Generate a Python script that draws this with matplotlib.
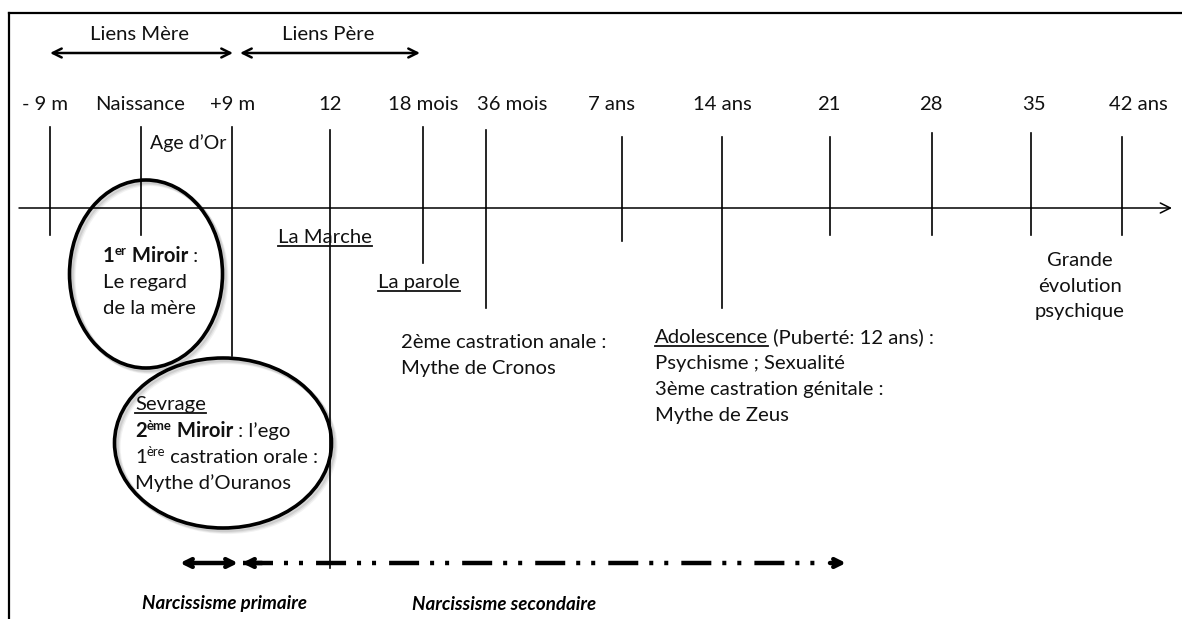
import matplotlib
matplotlib.use('Agg')
import matplotlib.pyplot as plt
from matplotlib.patches import Ellipse

plt.rcParams['font.family'] = ['Lato', 'DejaVu Sans']
plt.rcParams['lines.scale_dashes'] = False

# timeline ticks (x in pixel units of the drawing)
tick_labels = ['- 9 m', 'Naissance', '+9 m', '12', '18 mois', '36 mois', '7 ans', '14 ans', '21', '28', '35', '42 ans']
tick_x = [50, 141, 232, 330, 423, 486, 622, 722, 830, 932, 1031, 1122]
label_x = [45, 140, 233, 330, 423, 512, 611, 722, 829, 931, 1034, 1138]
tick_top = [127, 127, 127, 130, 127, 130, 137, 137, 137, 133, 133, 137]
tick_bottom = [235, 235, 356, 568, 263, 308, 241, 308, 235, 235, 235, 235]

links = ['Liens Mère', 'Liens Père']
links_span = [(50, 233), (240, 420)]

FS = 14.6

fig = plt.figure(figsize=(11.82, 6.19), dpi=100)
ax = fig.add_axes([0, 0, 1, 1])
ax.set_xlim(0, 1182)
ax.set_ylim(619, 0)
ax.axis('off')
renderer = fig.canvas.get_renderer()

def width_of(t):
	bb = t.get_window_extent(renderer)
	return bb.width

def runs(x, y, parts, size=FS):
	# parts: (text, bold, superscript, underline)
	for txt, bold, sup, under in parts:
		t = ax.text(x, y - (7 if sup else 0), txt, fontsize=size * 0.65 if sup else size,
			fontweight='bold' if bold else 'normal', va='baseline', ha='left', color='#111111')
		w = width_of(t)
		if under:
			ax.plot([x, x + w], [y + 3, y + 3], color='#111111', lw=1.3)
		x += w

# frame
ax.plot([9, 9], [619, 13], color='black', lw=1.6)
ax.plot([9, 1182], [13, 13], color='black', lw=1.6)

# top arrows
for name, (a, b) in zip(links, links_span):
	ax.annotate('', xy=(b, 53), xytext=(a, 53),
		arrowprops=dict(arrowstyle='<->', lw=1.8, color='black', mutation_scale=16, shrinkA=0, shrinkB=0))
	ax.text((a + b) / 2 - 2, 35, name, fontsize=FS, ha='center', va='center', color='#111111')

# main axis
ax.annotate('', xy=(1172, 208), xytext=(19, 208),
	arrowprops=dict(arrowstyle='->', lw=1.1, color='black', mutation_scale=18, shrinkA=0, shrinkB=0))

for lab, lx, tx, t0, t1 in zip(tick_labels, label_x, tick_x, tick_top, tick_bottom):
	ax.text(lx, 104, lab, fontsize=FS, ha='center', va='center', color='#111111')
	ax.plot([tx, tx], [t0, t1], color='black', lw=1.2)

ax.text(150, 143, "Age d\u2019Or", fontsize=14, ha='left', va='center', color='#111111')

# ellipses with soft shadow
for cx, cy, w, h in [(146, 274, 153, 188), (223, 443, 217, 170)]:
	for k, a in [(4, 0.10), (3, 0.15), (2, 0.2)]:
		ax.add_patch(Ellipse((cx + k, cy + k), w, h, fill=False, ec='grey', lw=3, alpha=a))
	ax.add_patch(Ellipse((cx, cy), w, h, fill=False, ec='black', lw=2.6))

# first mirror
runs(103, 262, [('1', True, False, False), ('er', True, True, False), (' Miroir', True, False, False), (' :', False, False, False)])
runs(103, 288, [('Le regard', False, False, False)])
runs(103, 314, [('de la mère', False, False, False)])

# second mirror
runs(135, 410, [('Sevrage', False, False, True)])
runs(135, 437, [('2', True, False, False), ('ème', True, True, False), (' Miroir', True, False, False), (' : l\u2019ego', False, False, False)])
runs(135, 463, [('1', False, False, False), ('ère', False, True, False), (' castration orale :', False, False, False)])
runs(135, 489, [('Mythe d\u2019Ouranos', False, False, False)])

runs(278, 243, [('La Marche', False, False, True)])
runs(378, 288, [('La parole', False, False, True)])
runs(401, 348, [('2ème castration anale :', False, False, False)])
runs(401, 374, [('Mythe de Cronos', False, False, False)])

runs(655, 343, [('Adolescence', False, False, True), (' (Puberté: 12 ans) :', False, False, False)])
runs(655, 369, [('Psychisme ; Sexualité', False, False, False)])
runs(655, 395, [('3ème castration génitale :', False, False, False)])
runs(655, 421, [('Mythe de Zeus', False, False, False)])

for i, s in enumerate(['Grande', 'évolution', 'psychique']):
	ax.text(1080, 260 + 26 * i, s, fontsize=FS, ha='center', va='center', color='#111111')

# narcissism arrows
ax.annotate('', xy=(238, 563), xytext=(180, 563),
	arrowprops=dict(arrowstyle='<->', lw=3.2, color='black', mutation_scale=14, shrinkA=0, shrinkB=0))
ax.plot([243, 816], [563, 563], color='black', lw=3.2, dashes=[21.6, 7.9, 2.9, 7.9, 2.9, 9.4], dash_capstyle='butt')
ax.annotate('', xy=(242, 563), xytext=(262, 563),
	arrowprops=dict(arrowstyle='->', lw=3.2, color='black', mutation_scale=14, shrinkA=0, shrinkB=0))
ax.annotate('', xy=(846, 563), xytext=(830, 563),
	arrowprops=dict(arrowstyle='->', lw=3.2, color='black', mutation_scale=14, shrinkA=0, shrinkB=0))

ax.text(225, 604, 'Narcissisme primaire', fontsize=13.5, fontweight='bold', style='italic', ha='center', va='center')
ax.text(504, 604, 'Narcissisme secondaire', fontsize=13.5, fontweight='bold', style='italic', ha='center', va='center')

fig.savefig('out.png', dpi=100)
